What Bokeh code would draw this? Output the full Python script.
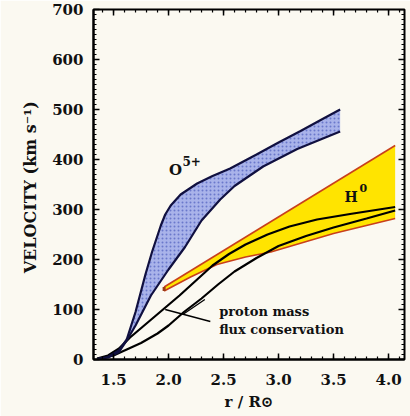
import numpy as np
from bokeh.plotting import figure
from bokeh.models import Range1d, Label, SingleIntervalTicker, PrintfTickFormatter
from bokeh.embed import file_html
from bokeh.resources import INLINE

# ---------------- data ----------------
# O5+ band, upper and lower edges (r / Rsun, km/s)
o5_up_x = [1.35, 1.45, 1.55, 1.62, 1.70, 1.79, 1.85, 1.93, 1.97, 2.02, 2.11, 2.26, 2.40, 2.56, 2.80, 3.00, 3.20, 3.40, 3.56]
o5_up_y = [1, 5, 18, 40, 95, 170, 215, 268, 290, 308, 330, 352, 367, 382, 410, 434, 457, 481, 500]
o5_lo_x = [1.35, 1.45, 1.55, 1.62, 1.70, 1.84, 2.00, 2.15, 2.30, 2.47, 2.60, 2.86, 3.17, 3.56]
o5_lo_y = [1, 4, 15, 38, 68, 128, 180, 225, 278, 320, 347, 386, 421, 456]

# H0 band edges
h0_up_x = [1.96, 4.06]
h0_up_y = [145, 428]
h0_lo_x = [1.96, 2.20, 2.44, 2.70, 2.93, 3.50, 4.06]
h0_lo_y = [137, 165, 190, 205, 215, 252, 282]

# proton mass flux conservation curves
p1_x = [1.35, 1.45, 1.55, 1.65, 1.80, 1.95, 2.10, 2.25, 2.40, 2.55, 2.70, 2.90, 3.10, 3.35, 3.65, 4.06]
p1_y = [2, 8, 22, 44, 72, 100, 128, 158, 188, 211, 230, 250, 266, 280, 291, 305]
p2_x = [1.35, 1.50, 1.60, 1.75, 1.90, 2.00, 2.14, 2.30, 2.45, 2.60, 2.80, 3.00, 3.25, 3.50, 3.80, 4.06]
p2_y = [1, 8, 18, 33, 52, 68, 95, 122, 150, 176, 203, 227, 247, 264, 282, 298]

# pointer lines for the "proton mass flux conservation" note
ptr1_x = [1.97, 2.38]
ptr1_y = [100, 76]
ptr2_x = [2.13, 2.33]
ptr2_y = [90, 120]

x_major = 0.5
x_minor_n = 5
y_major = 100
y_minor_n = 10
x_lo, x_hi = 1.318, 4.145
y_lo, y_hi = 0, 700

FONT = "DejaVu Serif"
BG = "#fbf9f1"

p = figure(width=410, height=416, x_range=Range1d(x_lo, x_hi), y_range=Range1d(y_lo, y_hi),
           output_backend="svg", toolbar_location=None,
           min_border_left=93, min_border_right=6, min_border_top=9, min_border_bottom=57)
p.background_fill_color = BG
p.border_fill_color = BG
p.grid.visible = False
p.outline_line_color = "black"
p.outline_line_width = 2

p.xaxis.ticker = SingleIntervalTicker(interval=x_major, num_minor_ticks=x_minor_n)
p.yaxis.ticker = SingleIntervalTicker(interval=y_major, num_minor_ticks=y_minor_n)
p.xaxis.formatter = PrintfTickFormatter(format="%.1f")

for ax in (p.xaxis[0], p.yaxis[0]):
    ax.major_tick_in = 6
    ax.major_tick_out = 0
    ax.minor_tick_in = 3
    ax.minor_tick_out = 0
    ax.axis_line_width = 2
    ax.major_tick_line_width = 1.5
    ax.minor_tick_line_width = 1.2
    ax.major_label_text_font = FONT
    ax.major_label_text_font_style = "bold"
    ax.major_label_text_font_size = "15px"
    ax.major_label_text_color = "#111111"
    ax.axis_label_text_font = FONT
    ax.axis_label_text_font_style = "bold"
    ax.axis_label_text_color = "#111111"

p.yaxis.major_label_standoff = 10
p.xaxis.major_label_standoff = 14
p.yaxis.axis_label = "VELOCITY  (km s\u207b\u00b9)"
p.yaxis.axis_label_text_font_size = "16px"
p.yaxis.axis_label_standoff = 9
p.xaxis.axis_label = "r / R\u2299"
p.xaxis.axis_label_text_font_size = "15px"
p.xaxis.axis_label_standoff = 5

# mirrored ticks on the right and top edges of the frame
y_major_ticks = np.arange(y_lo, y_hi + 1, y_major)
y_minor_ticks = np.arange(y_lo, y_hi + 1, y_major / y_minor_n)
x_major_ticks = np.arange(1.5, 4.01, x_major)
x_minor_ticks = np.arange(1.4, 4.11, x_major / x_minor_n)
p.ray(x=[x_hi] * len(y_minor_ticks), y=y_minor_ticks, length=3, length_units="screen",
      angle=np.pi, line_color="black", line_width=1.2)
p.ray(x=[x_hi] * len(y_major_ticks), y=y_major_ticks, length=6, length_units="screen",
      angle=np.pi, line_color="black", line_width=1.5)
p.ray(x=x_minor_ticks, y=[y_hi] * len(x_minor_ticks), length=3, length_units="screen",
      angle=-np.pi / 2, line_color="black", line_width=1.2)
p.ray(x=x_major_ticks, y=[y_hi] * len(x_major_ticks), length=6, length_units="screen",
      angle=-np.pi / 2, line_color="black", line_width=1.5)

# H0 band
p.patch(h0_up_x + h0_lo_x[::-1], h0_up_y + h0_lo_y[::-1], fill_color="#ffe400", line_color=None)
p.line(h0_up_x, h0_up_y, line_color="#c8401c", line_width=1.6)
p.line(h0_lo_x, h0_lo_y, line_color="#c8401c", line_width=1.6)
p.line([h0_up_x[0], h0_lo_x[0]], [h0_up_y[0], h0_lo_y[0]], line_color="#9a3a18", line_width=3)

# proton curves
p.line(p1_x, p1_y, line_color="black", line_width=2.2)
p.line(p2_x, p2_y, line_color="black", line_width=2.2)
p.line(ptr1_x, ptr1_y, line_color="black", line_width=1.3)
p.line(ptr2_x, ptr2_y, line_color="black", line_width=1.3)

# O5+ band
p.patch(o5_up_x + o5_lo_x[::-1], o5_up_y + o5_lo_y[::-1], fill_color="#a9b3ea", line_color=None,
        hatch_pattern="dot", hatch_color="#4050b8", hatch_scale=4, hatch_alpha=0.6)
p.line(o5_up_x, o5_up_y, line_color="#101040", line_width=2.2)
p.line(o5_lo_x, o5_lo_y, line_color="#101040", line_width=2.2)

def lab(x, y, t, size, align="center"):
    p.add_layout(Label(x=x, y=y, text=t, text_font=FONT, text_font_style="bold",
                       text_font_size=size, text_align=align, text_baseline="middle",
                       text_color="#111111"))

lab(2.064, 380, "O", "15px")
lab(2.21, 398, "5+", "12px")
lab(3.66, 326, "H", "14px")
lab(3.77, 343, "0", "11px")
lab(2.46, 96, "proton mass", "13px", "left")
lab(2.46, 60, "flux conservation", "13px", "left")

open("out.html", "w").write(file_html(p, INLINE))
